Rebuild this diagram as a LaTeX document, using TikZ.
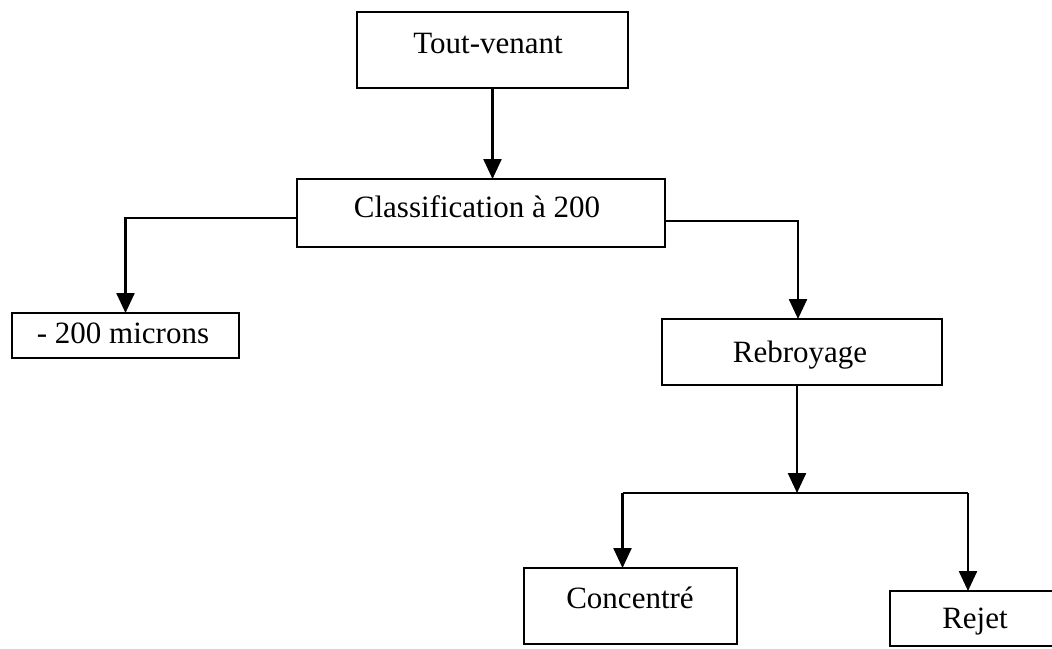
\documentclass[tikz,border=0pt]{standalone}
\usepackage{fontspec}
\setmainfont{Liberation Serif}
\usetikzlibrary{arrows.meta}
\begin{document}
\begin{tikzpicture}[x=1pt,y=-1pt,
  box/.style={draw, line width=2pt, rectangle, inner sep=0pt, outer sep=0pt},
  lbl/.style={anchor=base, inner sep=0pt, font=\fontsize{31}{37}\selectfont},
  flow/.style={line width=2.4pt, -{Triangle[width=18pt,length=20pt]}},
  wire/.style={line width=2.2pt}]
\clip (0,0) rectangle (1052,648);
\fill[white] (0,0) rectangle (1052,648);

% process boxes
\node[box, minimum width=271pt, minimum height=76pt] (tv) at (492.5,50) {};
\node[box, minimum width=368pt, minimum height=68pt] (cl) at (481,213) {};
\node[box, minimum width=227pt, minimum height=45pt] (mi) at (125.5,335.5) {};
\node[box, minimum width=280pt, minimum height=66pt] (rb) at (802,352) {};
\node[box, minimum width=213pt, minimum height=76pt] (co) at (630.5,606) {};
\node[box, minimum width=170pt, minimum height=55pt] (rj) at (975,618.5) {};

% box labels
\node[lbl] (tvt) at (488,53) {Tout-venant};
\node[lbl] (clt) at (477,217) {Classification à 200};
\node[lbl] (mit) at (123,343) {- 200 microns};
\node[lbl] (rbt) at (800,362) {Rebroyage};
\node[lbl] (cot) at (630,608) {Concentré};
\node[lbl] (rjt) at (975,628) {Rejet};

% connectors
\draw[flow] (tv.south) -- (tv.south |- cl.north);
\draw[flow] ([yshift=-5pt]cl.west) -| (mi.north);
\draw[flow] ([yshift=-8pt]cl.east) -| ([xshift=-4pt]rb.north);
\coordinate (split) at ([xshift=-5pt]rb.south |- 0,493);
\draw[flow] ([xshift=-5pt]rb.south) -- (split);
\draw[wire] ([xshift=-8pt]co.north |- split) -- ([xshift=-7pt]rj.north |- split);
\draw[flow] ([xshift=-8pt]co.north |- split) -- ([xshift=-8pt]co.north);
\draw[flow] ([xshift=-7pt]rj.north |- split) -- ([xshift=-7pt]rj.north);
\end{tikzpicture}
\end{document}
